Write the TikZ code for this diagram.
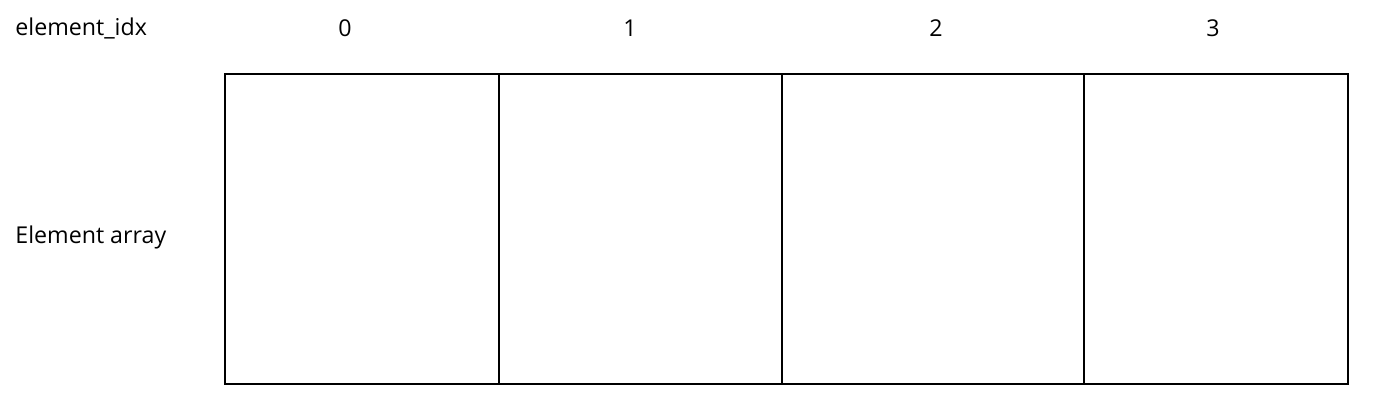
\documentclass[tikz,border=0pt]{standalone}
\usepackage{fontspec}
\setmainfont{Open Sans}
\usepackage{tikz}
\tikzset{cellnode/.style={shape=rectangle, draw, line width=0.8pt, inner sep=0pt, outer sep=0pt, anchor=north west},
labelnode/.style={inner sep=0pt, font=\fontsize{11.6}{14}\selectfont}}

\begin{document}
\begin{tikzpicture}[x=0.5pt,y=-0.5pt]
\useasboundingbox (0,0) rectangle (1373,403);
\foreach \i/\xl/\xr/\xi in {0/225/499/345, 1/499/782/630, 2/782/1084/936, 3/1084/1348/1213}
{
	\pgfmathsetmacro{\w}{0.5*(\xr-\xl)} ;
	\node[cellnode, minimum width=\w pt, minimum height=155pt] (cell\i) at (\xl,74) {} ;
	\node[labelnode] (idx\i) at (\xi,28) {\i} ;
}
\node[labelnode, anchor=west] (idxlabel) at (15,28) {element\_idx} ;
\node[labelnode, anchor=west] (arraylabel) at (15,237) {Element array} ;
\end{tikzpicture}
\end{document}
